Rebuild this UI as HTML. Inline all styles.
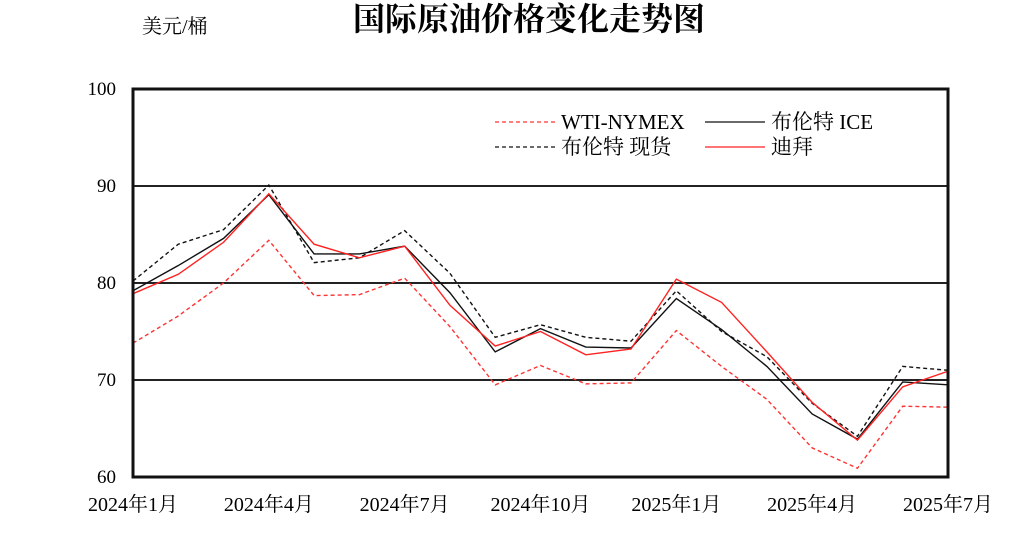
<!DOCTYPE html>
<html><head><meta charset="utf-8"><style>
body{margin:0;background:#fff;}
svg text{font-family:"Liberation Serif","Noto Serif CJK SC","Noto Sans CJK SC",serif;fill:#000;}
</style></head><body>
<svg id="chart" width="1024" height="554" viewBox="0 0 1024 554" xmlns="http://www.w3.org/2000/svg">
<rect x="0" y="0" width="1024" height="554" fill="#fff"/>
<text x="529" y="30" font-size="32" font-weight="bold" text-anchor="middle">国际原油价格变化走势图</text>
<text x="142" y="33" font-size="20">美元/桶</text>
<g id="grid"></g>
<g id="yticks"></g>
<g id="xticks"></g>
<g id="series"></g>
<rect x="133" y="89" width="815" height="388" fill="none" stroke="#111" stroke-width="3"/>
<g>
 <g>
  <line x1="495" y1="122" x2="555" y2="122" stroke="#f33" stroke-width="1.3" stroke-dasharray="4,3"/>
  <text x="561" y="129" font-size="21">WTI-NYMEX</text></g>
 <g>
  <line x1="705" y1="122" x2="765" y2="122" stroke="#111" stroke-width="1.3"/>
  <text x="771" y="129" font-size="21">布伦特 ICE</text></g>
 <g>
  <line x1="495" y1="147" x2="555" y2="147" stroke="#111" stroke-width="1.3" stroke-dasharray="4,3"/>
  <text x="561" y="154" font-size="21">布伦特 现货</text></g>
 <g>
  <line x1="705" y1="147" x2="765" y2="147" stroke="#f22" stroke-width="1.3"/>
  <text x="771" y="154" font-size="21">迪拜</text></g>
</g>
</svg>
<script>
const months = ["2024年1月","2024年2月","2024年3月","2024年4月","2024年5月","2024年6月","2024年7月","2024年8月","2024年9月","2024年10月","2024年11月","2024年12月","2025年1月","2025年2月","2025年3月","2025年4月","2025年5月","2025年6月","2025年7月"];
const xTickLabels = ["2024年1月","2024年4月","2024年7月","2024年10月","2025年1月","2025年4月","2025年7月"];
const yTicks = [60,70,80,90,100];
const wti = [73.8,76.6,80.0,84.4,78.7,78.8,80.5,75.5,69.5,71.5,69.6,69.7,75.1,71.4,68.0,63.0,60.9,67.3,67.2];
const brentIce = [79.2,81.8,84.6,89.1,83.0,83.0,83.8,79.0,72.9,75.3,73.4,73.3,78.4,75.2,71.4,66.5,63.9,69.8,69.5];
const brentSpot = [80.2,84.0,85.5,90.1,82.1,82.6,85.4,81.0,74.4,75.7,74.4,74.0,79.2,75.0,72.4,67.6,64.2,71.4,71.0];
const dubai = [78.9,80.9,84.2,89.2,84.0,82.6,83.8,77.7,73.5,75.0,72.6,73.2,80.4,78.0,72.9,67.7,63.8,69.3,70.9];

const NS="http://www.w3.org/2000/svg";
const X0=133,X1=948,Y0=477,Y1=89,VMIN=60,VMAX=100;
const xs=i=>X0+(X1-X0)*i/(months.length-1);
const ys=v=>Y0-(v-VMIN)/(VMAX-VMIN)*(Y0-Y1);
const grid=document.getElementById('grid'),yt=document.getElementById('yticks'),xt=document.getElementById('xticks'),ser=document.getElementById('series');
yTicks.forEach(v=>{
  if(v>VMIN&&v<VMAX){const l=document.createElementNS(NS,'line');
  
  
  l.setAttribute('x1',X0);l.setAttribute('x2',X1);l.setAttribute('y1',ys(v));l.setAttribute('y2',ys(v));
  l.setAttribute('stroke','#222');l.setAttribute('stroke-width','2');grid.appendChild(l);}
  const t=document.createElementNS(NS,'text');
  
  
  t.setAttribute('x',116);t.setAttribute('y',ys(v)+6);t.setAttribute('text-anchor','end');t.setAttribute('font-size','19');
  t.textContent=v;yt.appendChild(t);
});
xTickLabels.forEach(lab=>{
  const i=months.indexOf(lab);
  const t=document.createElementNS(NS,'text');
  
  
  t.setAttribute('x',xs(i));t.setAttribute('y',511);t.setAttribute('text-anchor','middle');t.setAttribute('font-size','20');
  t.textContent=lab;xt.appendChild(t);
});
function draw(data,color,dash,name){
  const p=document.createElementNS(NS,'polyline');
  
  
  p.setAttribute('points',data.map((v,i)=>xs(i)+','+ys(v)).join(' '));
  p.setAttribute('fill','none');p.setAttribute('stroke',color);p.setAttribute('stroke-width','1.4');
  if(dash)p.setAttribute('stroke-dasharray','4,3');
  ser.appendChild(p);
}
draw(wti,'#f33',true,'line-wti-nymex');
draw(brentSpot,'#111',true,'line-brent-spot');
draw(brentIce,'#111',false,'line-brent-ice');
draw(dubai,'#f22',false,'line-dubai');
</script>
</body></html>
